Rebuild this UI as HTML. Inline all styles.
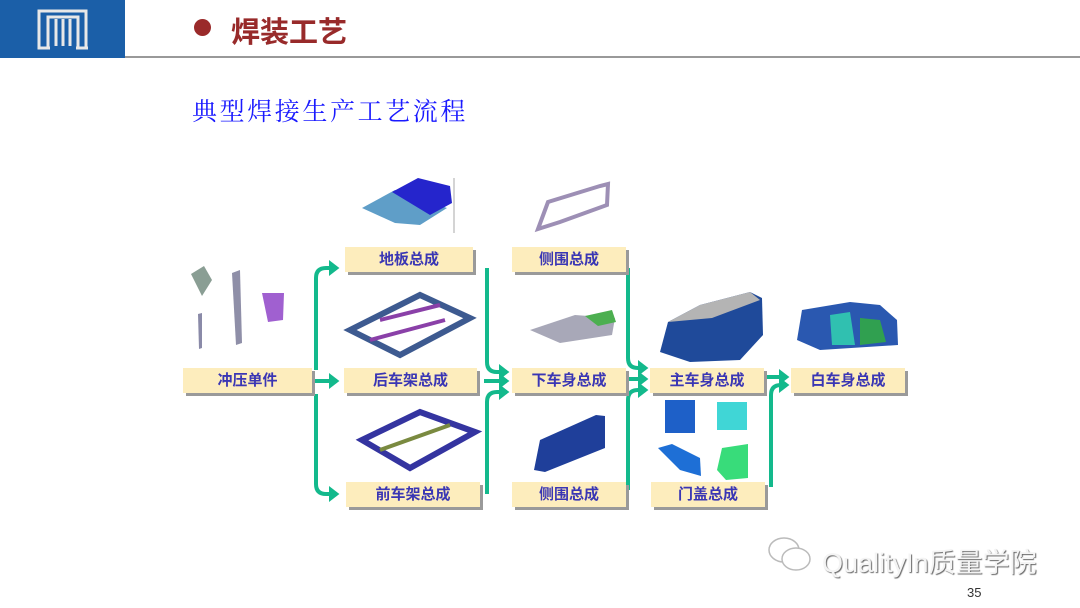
<!DOCTYPE html>
<html><head><meta charset="utf-8"><style>
html,body{margin:0;padding:0;background:#fff;}
body{width:1080px;height:608px;overflow:hidden;position:relative;font-family:"Liberation Sans","Noto Sans CJK SC",sans-serif;}
.b{position:absolute;background:#fdedbd;box-shadow:3px 3px 0 #9a9a9a;color:#3a36b4;font-weight:bold;font-size:15px;text-align:center;line-height:25px;height:25px;}
</style></head><body>
<div style="position:absolute;left:0;top:0;width:125px;height:58px;background:#1b5fa8"></div>
<svg style="position:absolute;left:36px;top:8px" width="54" height="44" viewBox="0 0 54 44">
<path d="M3 3H50V40H42V9H12V40H3Z M2 40H14 M40 40H52" fill="none" stroke="#e8e8e8" stroke-width="3"/>
<path d="M20 11V38M27 11V38M34 11V38" stroke="#e8e8e8" stroke-width="3"/>
</svg>
<div style="position:absolute;left:125px;top:56px;width:955px;height:2px;background:#999"></div>
<div style="position:absolute;left:194px;top:19px;width:17px;height:17px;border-radius:50%;background:#9a2a2a"></div>
<div style="position:absolute;left:231px;top:9px;font-size:29px;font-weight:bold;color:#982a2a;font-family:'Liberation Sans','Noto Sans CJK SC',sans-serif">焊装工艺</div>
<div style="position:absolute;left:192px;top:92px;font-size:25px;color:#1a1aff;font-family:'Liberation Serif','Noto Serif CJK SC',serif;letter-spacing:2.6px">典型焊接生产工艺流程</div>

<svg style="position:absolute;left:0;top:0" width="1080" height="608">
<defs><marker id="a" markerWidth="4" markerHeight="4" refX="2" refY="2" orient="auto" markerUnits="strokeWidth"><path d="M0,0L2.6,2L0,4Z" fill="#13b98c"/></marker></defs>
<g fill="none" stroke="#13b98c" stroke-width="4" marker-end="url(#a)">
<path d="M316 370V278Q316 268 326 268H337"/>
<path d="M314 381H337"/>
<path d="M316 394V484Q316 494 326 494H337"/>
<path d="M487 268V362Q487 372 497 372H507"/>
<path d="M484 381H507"/>
<path d="M487 494V402Q487 392 497 392H507"/>
<path d="M628 268V358Q628 368 638 368H646"/>
<path d="M626 379H646"/>
<path d="M628 490V400Q628 390 638 390H646"/>
<path d="M766 377H787"/>
<path d="M771 487V395Q771 385 781 385H787"/>
</g>
<path d="M191 274L204 266L212 280L202 296Z" fill="#8a9e94"/>
<path d="M232 273L240 270L242 343L236 345Z" fill="#8f8fa8"/>
<path d="M262 293H284L283 320L268 322Z" fill="#a060d0"/>
<path d="M198 314L202 313L202 348L199 349Z" fill="#8a8aa8"/>
<path d="M362 208L395 190L447 208L420 225L395 223Z" fill="#5f9ec8"/>
<path d="M392 192L418 178L450 186L452 203L430 215Z" fill="#2525cc"/>
<line x1="454" y1="178" x2="454" y2="233" stroke="#aaa"/>
<path d="M538 229L548 202L600 186L608 184L607 205L560 222Z" fill="none" stroke="#9d8fb5" stroke-width="4"/>
<path d="M350 330L420 295L470 318L400 355Z" fill="none" stroke="#3d5a90" stroke-width="6"/>
<path d="M380 320L440 305M370 340L445 320" stroke="#8a40a8" stroke-width="4"/>
<path d="M530 330L575 315L615 318L612 335L560 343Z" fill="#a8a8b8"/>
<path d="M585 316L612 310L616 322L598 326Z" fill="#4caf50"/>
<path d="M362 440L420 412L475 432L410 468Z" fill="none" stroke="#3434a0" stroke-width="6"/>
<path d="M380 450L450 425" stroke="#7a8a40" stroke-width="4"/>
<path d="M534 470L540 440L596 415L605 416L605 448L545 472Z" fill="#1f3f9a"/>
<path d="M660 352L668 322L700 305L750 292L762 298L763 335L740 360L690 362Z" fill="#1f4a9a"/>
<path d="M668 322L700 305L750 292L760 300L712 318Z" fill="#b4b4b4"/>
<path d="M797 340L802 310L850 302L880 305L897 320L898 345L820 350Z" fill="#2a58b0"/>
<path d="M830 315L850 312L855 345L832 345Z" fill="#30c0b0"/>
<path d="M860 318L880 320L886 342L860 345Z" fill="#30a050"/>
<rect x="665" y="400" width="30" height="33" fill="#1e60c8"/>
<rect x="717" y="402" width="30" height="28" fill="#40d6d6"/>
<path d="M658 448L672 444L700 458L701 476L680 470Z" fill="#1e6fd6"/>
<path d="M717 470L722 448L748 444L748 478L726 480Z" fill="#38dc7a"/>
</svg>

<div class="b" style="left:183px;top:368px;width:129px">冲压单件</div>
<div class="b" style="left:345px;top:247px;width:128px">地板总成</div>
<div class="b" style="left:344px;top:368px;width:133px">后车架总成</div>
<div class="b" style="left:346px;top:482px;width:134px">前车架总成</div>
<div class="b" style="left:512px;top:247px;width:114px">侧围总成</div>
<div class="b" style="left:512px;top:368px;width:114px">下车身总成</div>
<div class="b" style="left:512px;top:482px;width:114px">侧围总成</div>
<div class="b" style="left:650px;top:368px;width:114px">主车身总成</div>
<div class="b" style="left:651px;top:482px;width:114px">门盖总成</div>
<div class="b" style="left:791px;top:368px;width:114px">白车身总成</div>

<svg style="position:absolute;left:766px;top:534px" width="52" height="42">
<ellipse cx="18" cy="16" rx="15" ry="12" fill="#fff" stroke="#bbb" stroke-width="1.5"/>
<ellipse cx="30" cy="25" rx="14" ry="11" fill="#fff" stroke="#bbb" stroke-width="1.5"/>
</svg>
<div style="position:absolute;left:822px;top:541px;font-size:27px;color:#f4f4f4;text-shadow:1px 1px 1px #666;font-family:'Liberation Sans','Noto Sans CJK SC',sans-serif">QualityIn质量学院</div>
<div style="position:absolute;left:967px;top:585px;font-size:13px;color:#333">35</div>
</body></html>
